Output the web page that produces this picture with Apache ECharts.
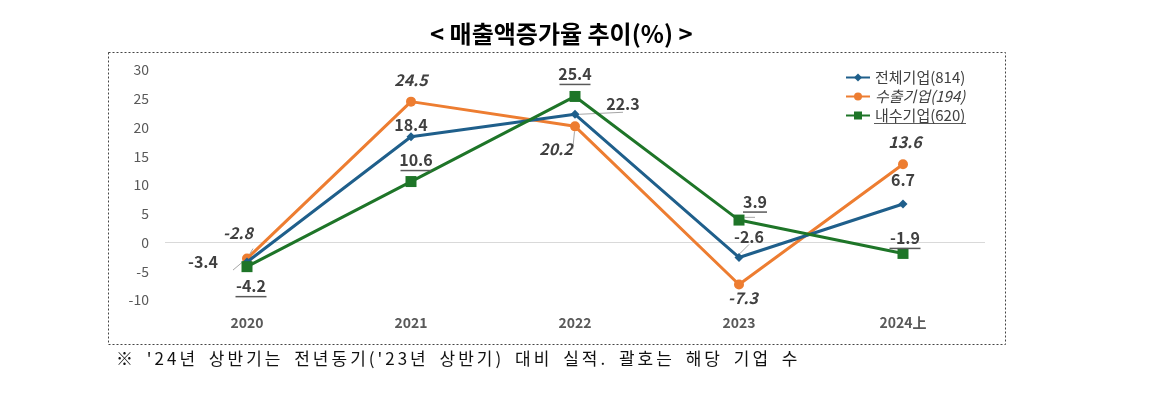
<!DOCTYPE html>
<html>
<head>
<meta charset="utf-8">
<script src="https://cdn.jsdelivr.net/npm/echarts@6/dist/echarts.min.js"></script>
<style>
html,body{margin:0;padding:0;background:#fff;}
#wrap{position:relative;width:1155px;height:403px;}
#chart{width:1155px;height:403px;}
#note{position:absolute;left:116px;top:348px;font:17px/20px 'Noto Sans CJK KR',sans-serif;color:#111;letter-spacing:3px;word-spacing:4px;white-space:nowrap;}
</style>
</head>
<body>
<div id="wrap">
<div id="chart"></div>
<div id="note"></div>
</div>
<script>
// ---- data ----
const categories = ['2020', '2021', '2022', '2023', '2024上'];
const seriesNames = ['전체기업(814)', '수출기업(194)', '내수기업(620)'];
const totalValues = [-3.4, 18.4, 22.3, -2.6, 6.7];
const exportValues = [-2.8, 24.5, 20.2, -7.3, 13.6];
const domesticValues = [-4.2, 10.6, 25.4, 3.9, -1.9];
const yMin = -10, yMax = 30, yStep = 5;
const titleText = '< 매출액증가율 추이(%) >';
const noteText = "※ '24년 상반기는 전년동기('23년 상반기) 대비 실적. 괄호는 해당 기업 수";

// ---- label placement (style, not data) ----
const totalOffsets = [[-44, 0], [0, -12], [48, -10], [10, -21], [0, -24]];
const totalLeaders = [true, false, true, true, false];
const exportOffsets = [[-9, -26], [0, -22], [-19, 23], [4, 13], [2, -22]];
const exportLeaders = [true, false, true, false, false];
const domesticOffsets = [[4, 21], [5, -20], [0, -21], [16, -17], [2, -14]];
const domesticLeaders = [false, false, false, true, false];

document.getElementById('note').textContent = noteText;

const FONT = "'Noto Sans CJK KR', 'Noto Sans', sans-serif";
const colors = ['#1F5F8B', '#ED7D31', '#1E7528'];

function buildData(values, offsets, leaders) {
  return values.map((v, i) => ({
    value: v,
    label: { offset: offsets[i] },
    labelLine: { show: leaders[i], lineStyle: { color: '#a6a6a6', width: 1 } }
  }));
}

const baseLabel = {
  show: true,
  position: 'inside',
  fontFamily: FONT,
  fontSize: 16,
  fontWeight: 'bold',
  color: '#404040'
};

const chart = echarts.init(document.getElementById('chart'));
const splitColors = [];
for (let t = yMin; t <= yMax; t += yStep) splitColors.push(t === 0 ? '#d9d9d9' : 'rgba(0,0,0,0)');

chart.setOption({
  animation: false,
  backgroundColor: '#fff',
  color: colors,
  title: {
    text: titleText,
    left: 425,
    top: 17,
    textStyle: { fontFamily: FONT, fontSize: 24, fontWeight: 'bold', color: '#000' }
  },
  grid: { left: 165, right: 170, top: 70, bottom: 103 },
  legend: {
    orient: 'vertical',
    left: 840,
    top: 65,
    itemWidth: 24,
    itemHeight: 10,
    itemGap: 4,
    textStyle: { fontFamily: FONT, fontSize: 15, color: '#404040', lineHeight: 15 },
    data: [
      { name: seriesNames[0] },
      { name: seriesNames[1], textStyle: { fontStyle: 'italic' } },
      { name: seriesNames[2] }
    ]
  },
  xAxis: {
    type: 'category',
    data: categories,
    boundaryGap: true,
    axisLine: { show: false },
    axisTick: { show: false },
    axisLabel: { margin: 16, fontFamily: FONT, fontSize: 14, fontWeight: 'bold', color: '#595959' }
  },
  yAxis: {
    type: 'value',
    min: yMin,
    max: yMax,
    interval: yStep,
    axisLine: { show: false },
    axisTick: { show: false },
    axisLabel: { margin: 16, fontFamily: FONT, fontSize: 14, color: '#595959' },
    splitLine: { show: true, lineStyle: { color: splitColors, width: 1 } }
  },
  series: [
    {
      name: seriesNames[1],
      type: 'line',
      data: buildData(exportValues, exportOffsets, exportLeaders),
      symbol: 'circle',
      symbolSize: 10,
      lineStyle: { width: 3, color: colors[1] },
      itemStyle: { color: colors[1] },
      label: Object.assign({}, baseLabel, { fontStyle: 'italic' }),
      labelLine: { show: false },
      z: 2
    },
    {
      name: seriesNames[0],
      type: 'line',
      data: buildData(totalValues, totalOffsets, totalLeaders),
      symbol: 'diamond',
      symbolSize: 9,
      lineStyle: { width: 3, color: colors[0] },
      itemStyle: { color: colors[0] },
      label: Object.assign({}, baseLabel),
      labelLine: { show: false },
      z: 3
    },
    {
      name: seriesNames[2],
      type: 'line',
      data: buildData(domesticValues, domesticOffsets, domesticLeaders),
      symbol: 'rect',
      symbolSize: 11,
      lineStyle: { width: 3, color: colors[2] },
      itemStyle: { color: colors[2] },
      label: Object.assign({}, baseLabel, {
        formatter: function (p) {
          const s = String(p.value);
          return '{v|' + s + '}\n{u' + s.length + '|}';
        },
        rich: {
          v: { fontFamily: FONT, fontSize: 16, fontWeight: 'bold', color: '#404040', lineHeight: 18 },
          u3: { width: 24, height: 1.5, lineHeight: 3, backgroundColor: '#595959' },
          u4: { width: 31, height: 1.5, lineHeight: 3, backgroundColor: '#595959' }
        }
      }),
      labelLine: { show: false },
      z: 4
    }
  ],
  graphic: [
    {
      type: 'rect',
      shape: { x: 108.5, y: 52.5, width: 897, height: 292 },
      style: { fill: 'none', stroke: '#444', lineWidth: 1, lineDash: [2, 2] },
      silent: true
    },
    {
      type: 'line',
      shape: { x1: 874, y1: 123.5, x2: 966, y2: 123.5 },
      style: { stroke: '#595959', lineWidth: 1 },
      silent: true
    }
  ]
});
</script>
</body>
</html>
